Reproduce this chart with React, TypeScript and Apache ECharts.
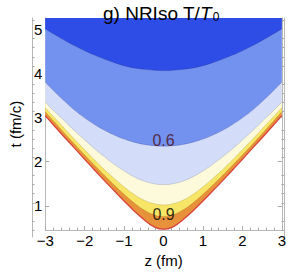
import React, { useEffect, useRef } from "react";
import * as echarts from "echarts";

// z positions (fm) for z >= 0; the contours are mirrored for z < 0
const zGrid = [0, 0.25, 0.5, 0.75, 1, 1.25, 1.5, 1.75, 2, 2.25, 2.5, 2.75, 3];
// t (fm/c) of each contour boundary at the z positions above
const edgeT = [0.47, 0.53, 0.69, 0.89, 1.11, 1.34, 1.57, 1.81, 2.05, 2.3, 2.54, 2.79, 3.04];
const level09 = [0.76, 0.8, 0.91, 1.07, 1.26, 1.47, 1.69, 1.92, 2.15, 2.39, 2.63, 2.88, 3.13];
const level08 = [1.02, 1.05, 1.13, 1.26, 1.43, 1.62, 1.82, 2.04, 2.27, 2.5, 2.74, 2.98, 3.22];
const level07 = [1.48, 1.5, 1.56, 1.66, 1.79, 1.94, 2.11, 2.29, 2.49, 2.69, 2.91, 3.12, 3.35];
const level06 = [2.35, 2.36, 2.39, 2.44, 2.51, 2.6, 2.71, 2.84, 2.99, 3.16, 3.36, 3.57, 3.8];
const level05 = [4.06, 4.07, 4.09, 4.12, 4.17, 4.24, 4.32, 4.41, 4.51, 4.62, 4.74, 4.87, 5.0];

const xRange = [-3, 3];
const yRange = [0.45, 5.25];
const yMajorTicks = [1, 2, 3, 4, 5];
const yMinorTicks = [0.6, 0.8, 1.2, 1.4, 1.6, 1.8, 2.2, 2.4, 2.6, 2.8, 3.2, 3.4, 3.6, 3.8, 4.2, 4.4, 4.6, 4.8, 5.2];
const contourLabelText = ["0.6", "0.9"];
const contourLabelZ = [0, 0];
const contourLabelT = [2.47, 0.8];

const FONT = "Liberation Sans";

function mirror(ts: number[]): number[][] {
  const pts: number[][] = [];
  for (let i = zGrid.length - 1; i > 0; i--) pts.push([-zGrid[i], ts[i]]);
  for (let i = 0; i < zGrid.length; i++) pts.push([zGrid[i], ts[i]]);
  return pts;
}

export default function App() {
  const ref = useRef<HTMLDivElement>(null);
  useEffect(() => {
    if (!ref.current) return;
    const chart = echarts.init(ref.current, undefined, { renderer: "svg" });
    const frame = "#b8b8b8";
    const tickCol = "#a8a8a8";
    const bands = [
      { d: edgeT, fill: "#e8913b", line: "#d8443f", w: 1.3 },
      { d: level09, fill: "#f6e566", line: "rgba(120,90,0,0.35)", w: 0.6 },
      { d: level08, fill: "#fdfadc", line: "rgba(120,110,40,0.35)", w: 0.6 },
      { d: level07, fill: "#d3dcf8", line: "rgba(80,90,120,0.35)", w: 0.6 },
      { d: level06, fill: "#7391ee", line: "rgba(40,50,110,0.35)", w: 0.6 },
      { d: level05, fill: "#2e4de6", line: "rgba(20,30,100,0.35)", w: 0.6 },
    ];
    const labelColors = ["#4a0c12", "#000000"];
    const xBase = {
      type: "value",
      min: xRange[0],
      max: xRange[1],
      interval: 1,
      gridIndex: 0,
      axisLine: { show: true, onZero: false, lineStyle: { color: frame, width: 1 } },
      axisTick: { show: true, inside: true, length: 4, lineStyle: { color: tickCol } },
      minorTick: { show: true, splitNumber: 5, length: 2.5, lineStyle: { color: tickCol } },
      splitLine: { show: false },
    };
    const yBase = (grid: number, pos: string, ticks: number[], len: number, labels: boolean) => ({
      type: "value",
      min: yRange[0],
      max: yRange[1],
      gridIndex: grid,
      position: pos,
      axisLine: { show: true, onZero: false, lineStyle: { color: frame, width: 1 } },
      axisTick: { show: true, inside: true, length: len, customValues: ticks, lineStyle: { color: tickCol } },
      axisLabel: labels
        ? { show: true, customValues: ticks, fontSize: 15, color: "#000", fontFamily: FONT, margin: 3 }
        : { show: false },
      splitLine: { show: false },
    });
    chart.setOption({
      animation: false,
      backgroundColor: "#ffffff",
      title: {
        text: "g) NRIso T/{i|T}{s|0}",
        left: 98,
        top: -2,
        textStyle: {
          fontSize: 19,
          fontWeight: "normal",
          color: "#000",
          fontFamily: FONT,
          rich: {
            i: { fontSize: 19, fontStyle: "italic", fontFamily: FONT, color: "#000" },
            s: { fontSize: 12, fontFamily: FONT, color: "#000", padding: [8, 0, 0, 1] },
          },
        },
      },
      grid: [
        { left: 32, right: 5, top: 18, bottom: 36 },
        { left: 32, right: 5, top: 18, bottom: 36 },
      ],
      xAxis: [
        {
          ...xBase,
          position: "bottom",
          axisLabel: {
            show: true,
            fontSize: 15,
            color: "#000",
            fontFamily: FONT,
            margin: 3,
            formatter: (v: number) => (v < 0 ? "\u2212" + Math.abs(v) : String(v)),
          },
          name: "z (fm)",
          nameLocation: "middle",
          nameGap: 22,
          nameTextStyle: { fontSize: 15, color: "#000", fontFamily: FONT },
        },
        { ...xBase, position: "top", axisLabel: { show: false } },
        { type: "value", min: xRange[0], max: xRange[1], gridIndex: 1, show: false },
      ],
      yAxis: [
        {
          ...yBase(0, "left", yMajorTicks, 4, true),
          name: "t (fm/c)",
          nameLocation: "middle",
          nameGap: 17,
          nameTextStyle: { fontSize: 15, color: "#000", fontFamily: FONT },
        },
        yBase(0, "right", yMajorTicks, 4, false),
        yBase(1, "left", yMinorTicks, 2.5, false),
        yBase(1, "right", yMinorTicks, 2.5, false),
      ],
      series: [
        ...bands.map((b) => ({
          type: "line",
          xAxisIndex: 0,
          yAxisIndex: 0,
          data: mirror(b.d),
          smooth: true,
          symbol: "none",
          showSymbol: false,
          silent: true,
          lineStyle: { color: b.line, width: b.w },
          areaStyle: { origin: "end", color: b.fill, opacity: 1 },
        })),
        {
          type: "scatter",
          xAxisIndex: 0,
          yAxisIndex: 0,
          symbolSize: 1,
          itemStyle: { color: "rgba(0,0,0,0)" },
          silent: true,
          z: 10,
          data: contourLabelText.map((_, i) => ({
            value: [contourLabelZ[i], contourLabelT[i]],
            label: { color: labelColors[i] },
          })),
          label: {
            show: true,
            position: "inside",
            fontSize: 16,
            fontFamily: FONT,
            formatter: (p: any) => contourLabelText[p.dataIndex],
          },
        },
      ],
    });
    return () => chart.dispose();
  }, []);
  return <div ref={ref} style={{ position: "absolute", left: 0, top: 0, width: 289, height: 273 }} />;
}
